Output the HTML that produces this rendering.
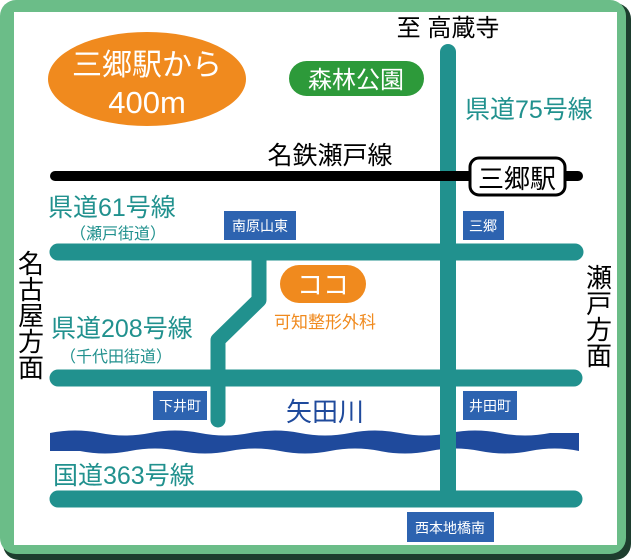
<!DOCTYPE html>
<html><head><meta charset="utf-8"><style>
body{margin:0;width:631px;height:560px;overflow:hidden;background:#fff}
svg{display:block}
text{font-family:"Liberation Sans","Noto Sans CJK JP",sans-serif}
</style></head><body>
<svg width="631" height="560" viewBox="0 0 631 560">
<rect x="3" y="3" width="628" height="557" rx="16" fill="#1d3d2e"/>
<rect x="0" y="0" width="626" height="554" rx="16" fill="#6bbd88"/>
<rect x="14" y="12" width="603" height="533" fill="#fff"/>
<g stroke="#21918e" stroke-linecap="round" fill="none">
<line x1="448" y1="52" x2="448" y2="497" stroke-width="16"/>
<line x1="58" y1="252" x2="575" y2="252" stroke-width="17"/>
<line x1="58" y1="378" x2="574" y2="378" stroke-width="17"/>
<line x1="58" y1="499" x2="574" y2="499" stroke-width="17"/>
<polyline points="259,253 259,300 218,340 218,420" stroke-width="15" stroke-linejoin="round"/>
</g>
<path d="M50,433 Q75,428 100,433 T150,433 T200,433 T250,433 T300,433 T350,433 T400,433 T450,433 T500,433 T550,433 L579,433 L579,451 Q555,446 530,451 T480,451 T430,451 T380,451 T330,451 T280,451 T230,451 T180,451 T130,451 T80,451 L50,451 Z" fill="#1f4a9c"/>
<rect x="440" y="430" width="16" height="24" fill="#21918e"/>
<line x1="55" y1="176" x2="578" y2="176" stroke="#000" stroke-width="10" stroke-linecap="round"/>
<rect x="470" y="158" width="95" height="37" rx="9" fill="#fff" stroke="#000" stroke-width="3"/>
<text x="517" y="188" font-size="26" text-anchor="middle">三郷駅</text>
<text x="330" y="164" font-size="25" text-anchor="middle">名鉄瀬戸線</text>
<text x="448" y="36" font-size="24" text-anchor="middle">至 高蔵寺</text>
<ellipse cx="147" cy="79" rx="99" ry="47" fill="#f08a1e"/>
<text x="147" y="75" font-size="30" fill="#fff" text-anchor="middle">三郷駅から</text>
<text x="147" y="113" font-size="31" fill="#fff" text-anchor="middle">400m</text>
<rect x="289" y="61" width="135" height="35" rx="17.5" fill="#2d9a3a"/>
<text x="356" y="88" font-size="24" fill="#fff" text-anchor="middle">森林公園</text>
<g fill="#21918e">
<text x="465" y="118" font-size="25">県道75号線</text>
<text x="48" y="216" font-size="25">県道61号線</text>
<text x="70" y="239" font-size="16">（瀬戸街道）</text>
<text x="51" y="337" font-size="25">県道208号線</text>
<text x="60" y="362" font-size="16">（千代田街道）</text>
<text x="53" y="484" font-size="25">国道363号線</text>
</g>
<text x="325" y="421" font-size="26" fill="#1f4a9c" text-anchor="middle">矢田川</text>
<rect x="280" y="265" width="86" height="38" rx="19" fill="#f08a1e"/>
<text x="323" y="294" font-size="26" fill="#fff" text-anchor="middle">ココ</text>
<text x="325" y="328" font-size="17" fill="#f08a1e" text-anchor="middle">可知整形外科</text>
<g fill="#2d63b0">
<rect x="224" y="211" width="72" height="29"/>
<rect x="463" y="211" width="41" height="29"/>
<rect x="153" y="391" width="54" height="29"/>
<rect x="463" y="391" width="54" height="29"/>
<rect x="407" y="512" width="87" height="30"/>
</g>
<g fill="#fff" font-size="14" text-anchor="middle">
<text x="260" y="231">南原山東</text>
<text x="483" y="231">三郷</text>
<text x="180" y="411">下井町</text>
<text x="490" y="411">井田町</text>
<text x="450" y="533">西本地橋南</text>
</g>
<g font-size="26" text-anchor="middle">
<text x="31" y="273">名</text><text x="31" y="299">古</text><text x="31" y="325">屋</text><text x="31" y="351">方</text><text x="31" y="377">面</text>
<text x="599" y="287">瀬</text><text x="599" y="313">戸</text><text x="599" y="339">方</text><text x="599" y="365">面</text>
</g>
</svg>
</body></html>
